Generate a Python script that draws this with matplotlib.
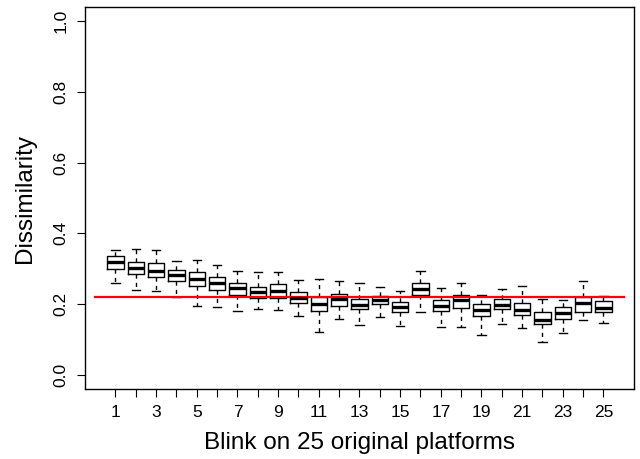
import numpy as np
import matplotlib
matplotlib.use("Agg")
import matplotlib.pyplot as plt

plt.rcParams['font.family'] = ['Liberation Sans', 'DejaVu Sans']

# platforms 1..25
platforms = list(range(1, 26))
whishi = [0.353, 0.356, 0.353, 0.322, 0.326, 0.311, 0.293, 0.291, 0.291, 0.269,
          0.271, 0.265, 0.259, 0.249, 0.236, 0.293, 0.245, 0.259, 0.226, 0.243,
          0.250, 0.214, 0.212, 0.264, 0.224]
q3 = [0.336, 0.318, 0.315, 0.296, 0.291, 0.276, 0.260, 0.249, 0.257, 0.233,
      0.220, 0.229, 0.215, 0.223, 0.205, 0.261, 0.213, 0.226, 0.200, 0.214,
      0.203, 0.178, 0.191, 0.221, 0.208]
med = [0.319, 0.302, 0.294, 0.281, 0.270, 0.259, 0.246, 0.234, 0.236, 0.217,
       0.199, 0.214, 0.198, 0.211, 0.193, 0.242, 0.196, 0.213, 0.183, 0.198,
       0.184, 0.155, 0.174, 0.202, 0.189]
q1 = [0.300, 0.284, 0.278, 0.266, 0.250, 0.240, 0.227, 0.217, 0.218, 0.202,
      0.180, 0.196, 0.185, 0.199, 0.177, 0.226, 0.180, 0.189, 0.165, 0.186,
      0.169, 0.143, 0.158, 0.178, 0.177]
whislo = [0.259, 0.239, 0.236, 0.220, 0.194, 0.193, 0.181, 0.185, 0.182, 0.167,
          0.120, 0.157, 0.142, 0.164, 0.139, 0.178, 0.136, 0.134, 0.113, 0.144,
          0.132, 0.093, 0.119, 0.154, 0.146]
threshold = 0.22

stats = []
for i in range(len(platforms)):
    stats.append(dict(whislo=whislo[i], q1=q1[i], med=med[i], q3=q3[i],
                      whishi=whishi[i], fliers=[]))

fig = plt.figure(figsize=(6.4, 4.59), dpi=100)
ax = fig.add_axes([0.1328, 0.1525, 0.8578, 0.8322])

ax.bxp(stats, positions=platforms, widths=0.8, capwidths=0.4,
       showfliers=False, patch_artist=False,
       boxprops=dict(color='black', linewidth=1.0),
       medianprops=dict(color='black', linewidth=2.4, solid_capstyle='butt'),
       whiskerprops=dict(color='black', linewidth=1.0, linestyle=(0, (3, 3))),
       capprops=dict(color='black', linewidth=1.0))

ax.plot([0, 26], [threshold, threshold], color='red', linewidth=1.6)

ax.set_xlim(-0.5, 26.5)
ax.set_ylim(-0.04, 1.04)
ax.set_xticks(platforms)
ax.set_xticklabels([str(p) if p % 2 == 1 else '' for p in platforms])
ax.set_yticks([0.0, 0.2, 0.4, 0.6, 0.8, 1.0])
ax.set_yticklabels(['0.0', '0.2', '0.4', '0.6', '0.8', '1.0'], rotation=90, va='center')
ax.tick_params(axis='both', length=5.8, width=0.8, labelsize=12.5, pad=6)
for s in ax.spines.values():
    s.set_linewidth(1.0)

ax.set_xlabel('Blink on 25 original platforms', fontsize=17.5, labelpad=8)
ax.set_ylabel('Dissimilarity', fontsize=17.5, labelpad=13)

fig.savefig('out.png', dpi=100)
